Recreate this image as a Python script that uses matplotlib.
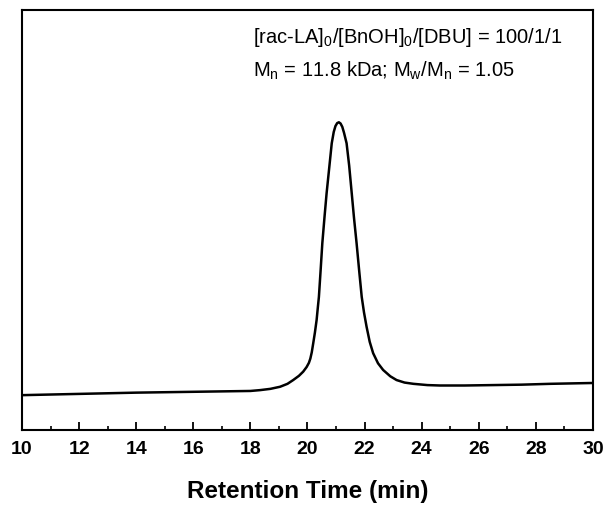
import matplotlib
matplotlib.use("Agg")
import matplotlib.pyplot as plt
from matplotlib.ticker import MultipleLocator

plt.rcParams["font.family"] = ["Liberation Sans", "DejaVu Sans"]
plt.rcParams["mathtext.fontset"] = "custom"
plt.rcParams["mathtext.rm"] = "Liberation Sans"
plt.rcParams["mathtext.it"] = "Liberation Sans:italic"

# GPC trace (signal in arbitrary units, 0..1)
tiempo = [10.0, 12.0, 14.0, 16.0, 18.0, 18.34, 18.7, 19.04, 19.3, 19.5, 19.7,
          19.85, 19.97, 20.05, 20.1, 20.15, 20.2, 20.26, 20.32, 20.36, 20.4,
          20.46, 20.52, 20.6, 20.67, 20.77, 20.85, 20.92, 20.98, 21.04, 21.1,
          21.16, 21.22, 21.28, 21.37, 21.46, 21.55, 21.63, 21.72, 21.81, 21.9,
          21.98, 22.07, 22.18, 22.3, 22.47, 22.65, 22.9, 23.12, 23.4, 23.71,
          24.2, 24.64, 25.5, 26.5, 27.5, 28.5, 30.0]
senal = [0.083, 0.086, 0.089, 0.091, 0.093, 0.095, 0.098, 0.103, 0.110, 0.119, 0.129,
         0.139, 0.150, 0.160, 0.170, 0.185, 0.206, 0.232, 0.262, 0.290, 0.317,
         0.380, 0.445, 0.510, 0.564, 0.630, 0.683, 0.710, 0.724, 0.731, 0.733,
         0.730, 0.722, 0.708, 0.683, 0.630, 0.564, 0.505, 0.445, 0.380, 0.317,
         0.280, 0.246, 0.210, 0.183, 0.159, 0.143, 0.128, 0.119, 0.113, 0.110,
         0.107, 0.106, 0.106, 0.107, 0.108, 0.110, 0.112]

fig = plt.figure(figsize=(6.07, 5.09), dpi=100)
ax = fig.add_axes([0.0362, 0.1552, 0.9407, 0.8248])

ax.plot(tiempo, senal, color="black", linewidth=1.8)

ax.set_xlim(10, 30)
ax.set_ylim(0, 1)
ax.set_yticks([])
ax.xaxis.set_major_locator(MultipleLocator(2))
ax.xaxis.set_minor_locator(MultipleLocator(1))
ax.tick_params(axis="x", which="major", direction="in", length=6, width=1.3,
               labelsize=14, pad=8)
ax.tick_params(axis="x", which="minor", direction="in", length=3, width=1.2)
for lbl in ax.get_xticklabels():
    lbl.set_fontweight("bold")
for s in ax.spines.values():
    s.set_linewidth(1.5)

ax.set_xlabel("Retention Time (min)", fontsize=17.5, fontweight="bold", labelpad=16)

ax.text(0.405, 0.935, r"[rac-LA]$_\mathregular{0}$/[BnOH]$_\mathregular{0}$/[DBU] = 100/1/1",
        transform=ax.transAxes, fontsize=14.5, va="center")
ax.text(0.405, 0.855, r"M$_\mathregular{n}$ = 11.8 kDa; M$_\mathregular{w}$/M$_\mathregular{n}$ = 1.05",
        transform=ax.transAxes, fontsize=14.5, va="center")

fig.savefig("out.png", dpi=100)
